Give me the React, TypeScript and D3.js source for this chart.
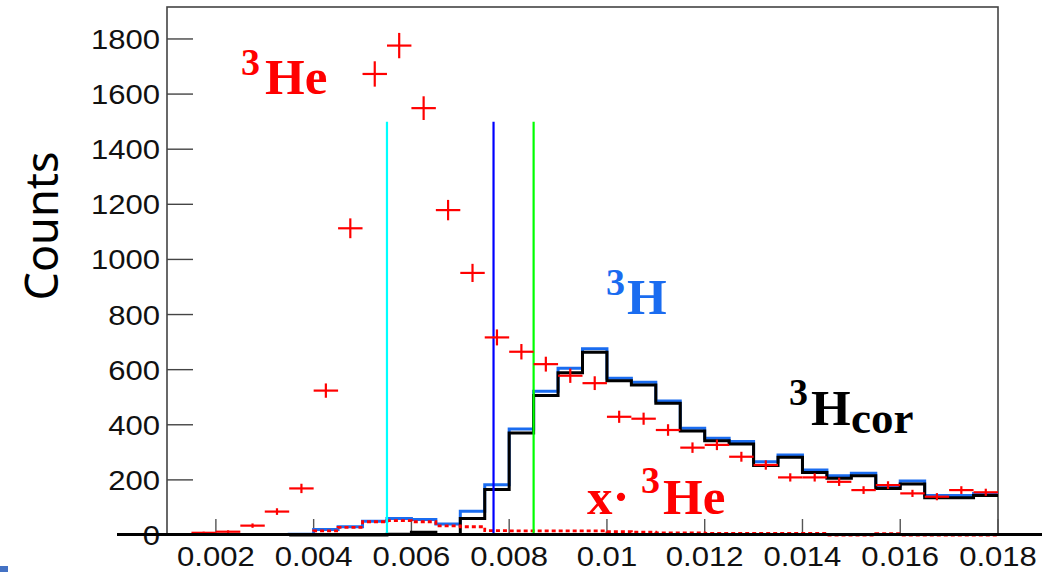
import * as d3 from "d3";

const WIDTH = 1056;
const HEIGHT = 572;

// frame of the ROOT pad
const LEFT = 167;
const RIGHT = 998;
const TOP = 7;
const BOTTOM = 535;

const X_DOMAIN = [0.001, 0.018];
const Y_DOMAIN = [0, 1916];
const BIN_W = 0.0005;

// 3He data points (low edge of each bin)
const heBins = [
  0.0015, 0.002, 0.0025, 0.003, 0.0035, 0.004, 0.0045, 0.005, 0.0055, 0.006,
  0.0065, 0.007, 0.0075, 0.008, 0.0085, 0.009, 0.0095, 0.01, 0.0105, 0.011,
  0.0115, 0.012, 0.0125, 0.013, 0.0135, 0.014, 0.0145, 0.015, 0.0155, 0.016,
  0.0165, 0.017, 0.0175,
];
const heCounts = [
  8, 12, 34, 85, 169, 524, 1113, 1673, 1776, 1549, 1179, 951, 717, 665, 620,
  578, 551, 429, 422, 381, 317, 327, 284, 254, 209, 209, 193, 163, 181, 151,
  139, 163, 155,
];
const heErrors = [
  4, 5, 8, 12, 17, 26, 36, 46, 46, 43, 37, 33, 29, 28, 27, 26, 25, 22, 22, 21,
  19, 19, 18, 17, 15, 15, 15, 14, 14, 13, 13, 14, 13,
];

// 3H histograms (low edge of each bin)
const hBins = [
  0.0035, 0.004, 0.0045, 0.005, 0.0055, 0.006, 0.0065, 0.007, 0.0075, 0.008,
  0.0085, 0.009, 0.0095, 0.01, 0.0105, 0.011, 0.0115, 0.012, 0.0125, 0.013,
  0.0135, 0.014, 0.0145, 0.015, 0.0155, 0.016, 0.0165, 0.017, 0.0175,
];
const h3Counts = [
  3, 20, 30, 50, 60, 56, 40, 86, 182, 385, 522, 605, 676, 569, 554, 486, 387,
  351, 339, 266, 290, 236, 215, 224, 178, 196, 143, 143, 151,
];
const h3CorCounts = [
  0, 0, 0, 0, 3, 10, 2, 60, 165, 370, 506, 589, 663, 560, 544, 478, 377, 342,
  330, 252, 282, 227, 206, 215, 169, 185, 135, 135, 143,
];
const heScaledCounts = [
  2, 15, 28, 48, 52, 48, 33, 30, 16, 15, 15, 15, 15, 12, 10, 8, 8, 6, 6, 6, 6,
  6, 0, 0, 5, 0, 0, 0, 0,
];

// cut lines
const cutValues = [0.0055, 0.00768, 0.0085];
const cutColors = ["#00ffff", "#0000ff", "#00ff00"];
const cutTop = 1500;

const yTicks = [0, 200, 400, 600, 800, 1000, 1200, 1400, 1600, 1800];
const xTicks = [0.002, 0.004, 0.006, 0.008, 0.01, 0.012, 0.014, 0.016, 0.018];

export default function App() {
  const x = d3.scaleLinear().domain(X_DOMAIN).range([LEFT, RIGHT]);
  const y = d3.scaleLinear().domain(Y_DOMAIN).range([BOTTOM, TOP]);
  const fmt = d3.format("~g");

  const step = (counts: number[]) => {
    const pts: [number, number][] = hBins.map((b, i) => [b, counts[i]]);
    pts.unshift([hBins[0], 0]);
    pts.push([hBins[hBins.length - 1] + BIN_W, counts[counts.length - 1]]);
    return d3
      .line<[number, number]>()
      .x((d) => x(d[0]))
      .y((d) => y(d[1]))
      .curve(d3.curveStepAfter)(pts) as string;
  };

  const serif = "'Liberation Serif', 'Times New Roman', serif";
  const sans = "'Liberation Sans', Arial, sans-serif";

  return (
    <svg
      width={WIDTH}
      height={HEIGHT}
      style={{ position: "absolute", left: 0, top: 0, background: "#fff" }}
    >
      <rect x={0} y={0} width={WIDTH} height={HEIGHT} fill="#fff" />

      {/* frame */}
      <rect
        x={LEFT}
        y={TOP}
        width={RIGHT - LEFT}
        height={BOTTOM - TOP}
        fill="none"
        stroke="#444"
        strokeWidth={1.6}
      />

      {/* y ticks + labels */}
      {yTicks.map((t) => (
        <g key={"y" + t}>
          <line x1={LEFT} x2={LEFT + 26} y1={y(t)} y2={y(t)} stroke="#444" strokeWidth={1.4} />
          <text
            transform={`translate(${160},${y(t) + 10}) scale(1.13,1)`}
            textAnchor="end"
            fontFamily={sans}
            fontSize={27.5}
            fill="#111"
          >
            {t}
          </text>
        </g>
      ))}

      {/* x ticks + labels */}
      {xTicks.map((t) => (
        <g key={"x" + t}>
          <line x1={x(t)} x2={x(t)} y1={BOTTOM} y2={BOTTOM - 16} stroke="#555" strokeWidth={1.4} />
          <text
            transform={`translate(${x(t)},${566}) scale(1.13,1)`}
            textAnchor="middle"
            fontFamily={sans}
            fontSize={27.5}
            fill="#111"
          >
            {fmt(t)}
          </text>
        </g>
      ))}

      {/* histograms */}
      <path d={step(h3Counts)} fill="none" stroke="#1a6cf0" strokeWidth={3} />
      <path d={step(h3CorCounts)} fill="none" stroke="#000" strokeWidth={3} />
      <path
        d={step(heScaledCounts)}
        fill="none"
        stroke="#ff0000"
        strokeWidth={2.8}
        strokeDasharray="4,3"
      />

      {/* cut lines */}
      {cutValues.map((c, i) => (
        <line
          key={"c" + i}
          x1={x(c)}
          x2={x(c)}
          y1={y(0)}
          y2={y(cutTop)}
          stroke={cutColors[i]}
          strokeWidth={2.2}
        />
      ))}

      {/* 3He points with errors */}
      {heBins.map((b, i) => {
        const cx = x(b + BIN_W / 2);
        return (
          <g key={"p" + i} stroke="#ff0000" strokeWidth={2.2}>
            <line x1={x(b)} x2={x(b + BIN_W)} y1={y(heCounts[i])} y2={y(heCounts[i])} />
            <line
              x1={cx}
              x2={cx}
              y1={y(heCounts[i] - heErrors[i])}
              y2={y(heCounts[i] + heErrors[i])}
            />
          </g>
        );
      })}

      {/* overlay axis line */}
      <line x1={117} x2={1042} y1={534.5} y2={534.5} stroke="#000" strokeWidth={3} />

      {/* y title */}
      <text
        transform="translate(58,226) rotate(-90)"
        textAnchor="middle"
        fontFamily="'Noto Sans', 'Open Sans', sans-serif"
        fontSize={45}
        fill="#000"
      >
        Counts
      </text>

      {/* labels */}
      <g fontFamily={serif} fontWeight="bold">
        <text x={241} y={75} fontSize={38} fill="#ff0000">3</text>
        <text x={265} y={94} fontSize={51} fill="#ff0000">He</text>

        <text x={606} y={295} fontSize={38} fill="#1a6cf0">3</text>
        <text x={627} y={314} fontSize={51} fill="#1a6cf0">H</text>

        <text x={789} y={405} fontSize={38} fill="#000">3</text>
        <text x={811} y={425} fontSize={51} fill="#000">H</text>
        <text x={851} y={433} fontSize={45} fill="#000">cor</text>

        <text x={587} y={514} fontSize={51} fill="#ff0000">x·</text>
        <text x={641} y={493} fontSize={38} fill="#ff0000">3</text>
        <text x={663} y={514} fontSize={51} fill="#ff0000">He</text>
      </g>

      {/* slide corner mark */}
      <rect x={0} y={566} width={8} height={6} fill="#4472c4" />
    </svg>
  );
}
